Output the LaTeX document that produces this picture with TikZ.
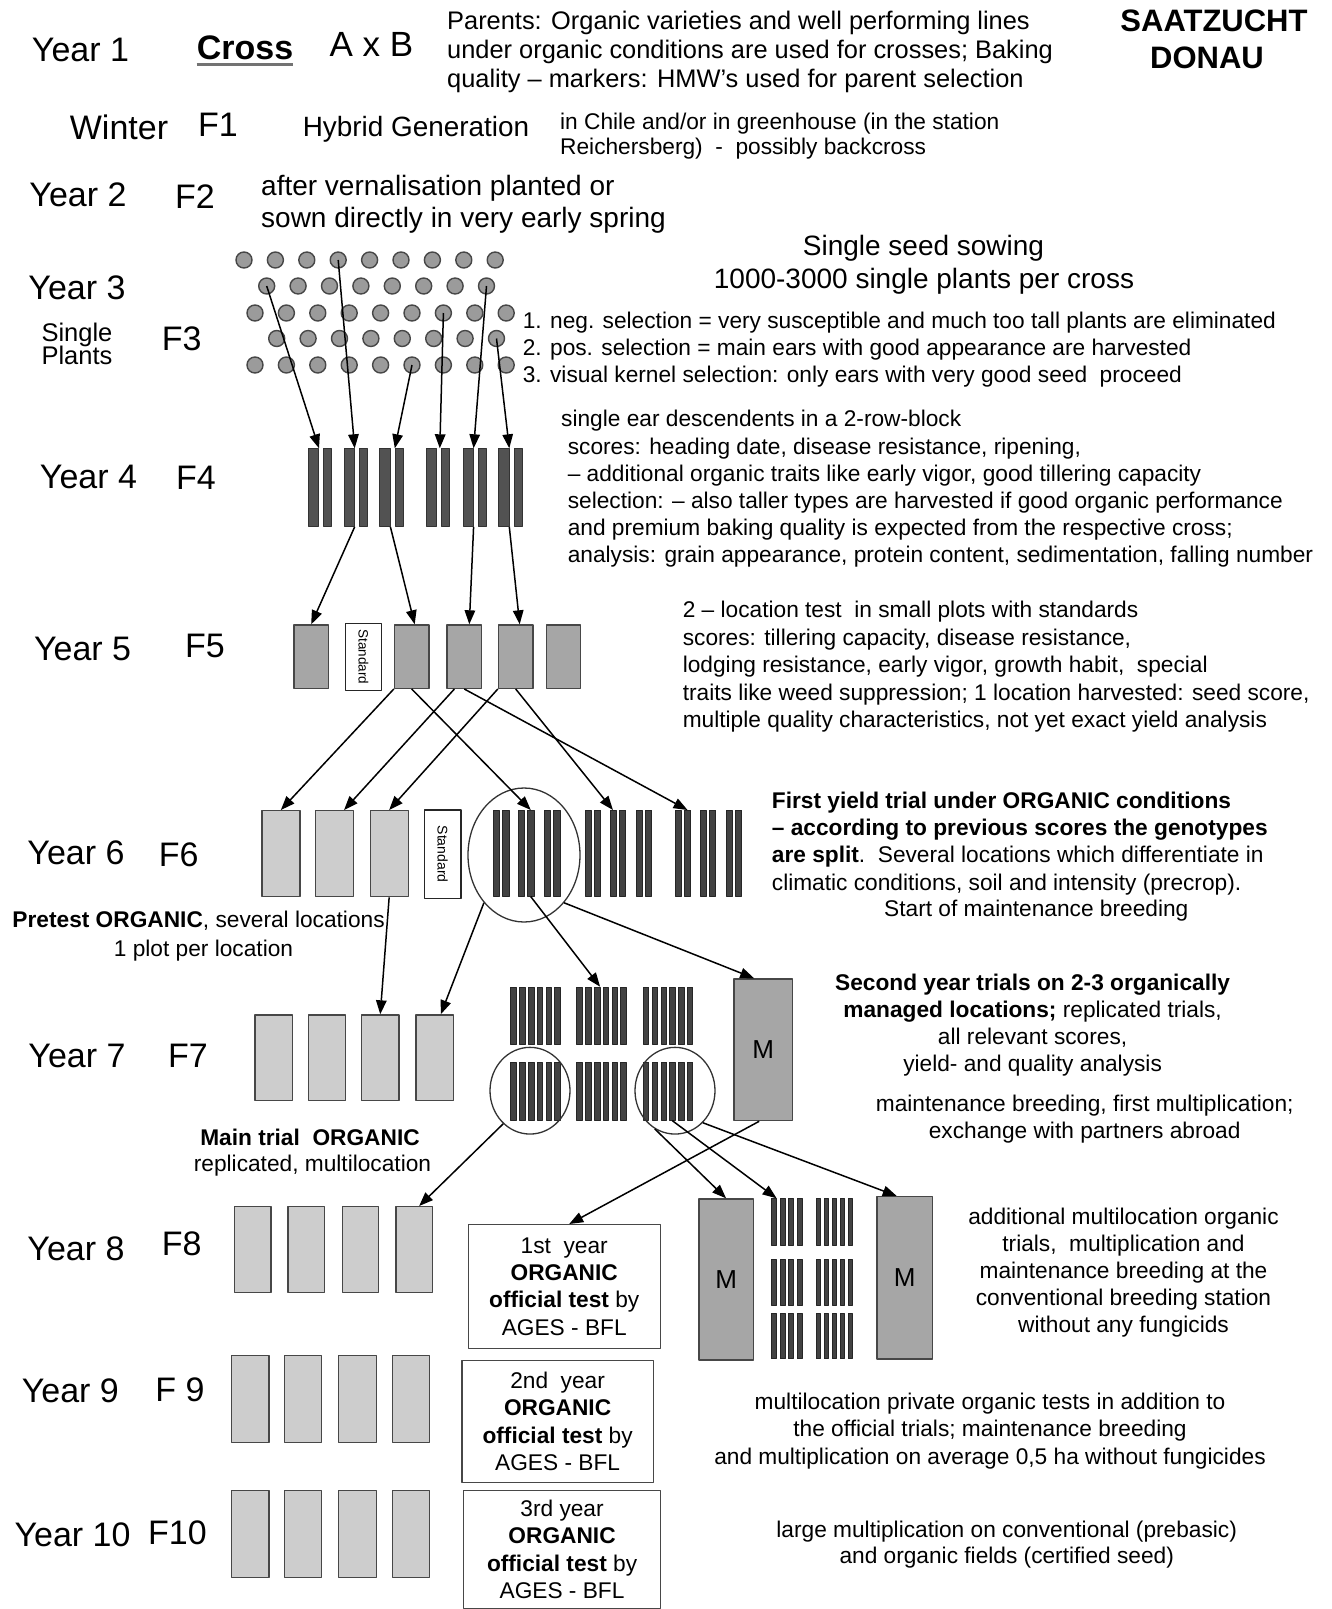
\documentclass[tikz,border=0pt]{standalone}
\usepackage{fontspec}
\setmainfont{Liberation Sans}
\usetikzlibrary{arrows.meta,shapes.geometric}

\definecolor{seedgray}{HTML}{9B9B9B}
\definecolor{midgray}{HTML}{A6A6A6}
\definecolor{lightgray}{HTML}{CDCDCD}
\definecolor{bargray}{HTML}{525252}
\definecolor{edgegray}{HTML}{474747}

\newcommand{\sz}[1]{\fontsize{#1}{#1}\selectfont}

\begin{document}
\begin{tikzpicture}[x=1pt,y=-1pt,>={Triangle[length=14pt,width=10.5pt]},line join=round,
  yearlab/.style={font=\sz{34},inner sep=0pt,text height=22.5pt,text depth=0pt},
  txt/.style={font=\sz{22.7},inner sep=0pt,text height=17pt,text depth=0pt},
  seed/.style={circle,draw=edgegray,fill=seedgray,line width=1.4pt,minimum size=16pt,inner sep=0pt},
  fbar/.style={draw=black!80,fill=bargray,line width=0.8pt,minimum height=77.7pt,inner sep=0pt,anchor=north west},
  tbar/.style={draw=black!85,fill=bargray!80!black,line width=0.6pt,inner sep=0pt,anchor=north west},
  plotbox/.style={draw=edgegray,line width=1.3pt,inner sep=0pt,anchor=north west},
  stdbox/.style={draw=black!85,fill=white,line width=1.3pt,inner sep=0pt,anchor=north west},
  testbox/.style={draw=edgegray,fill=white,line width=1.3pt,inner sep=0pt,anchor=north west,
    align=center,font=\fontsize{22.7}{27.3}\selectfont},
  mbox/.style={plotbox,fill=midgray,font=\sz{26}},
  sel/.style={ellipse,draw=black!80,line width=1.3pt,inner sep=0pt},
  arr/.style={->,line width=1.5pt}]
\useasboundingbox (0,0) rectangle (1331,1609);
\fill[white] (0,0) rectangle (1331,1609);

% year and generation labels
\node[yearlab] (y1) at (80.5,50) {Year 1};
\node[yearlab,font=\bfseries\sz{34}] (cross) at (245,48) {Cross};
\draw[line width=2.6pt,black!55] ([yshift=-5pt]cross.south west) -- ([yshift=-5pt]cross.south east);
\node[yearlab,font=\sz{35}] (axb) at (371.5,45) {A x B};
\node[yearlab] (win) at (119,128) {Winter};
\node[yearlab] (f1) at (218,125) {F1};
\node[yearlab] (y2) at (78,195) {Year 2};
\node[yearlab] (f2) at (195,197) {F2};
\node[yearlab] (y3) at (77,288.4) {Year 3};
\node[txt,font=\sz{25.5}] (sp1) at (77,332.5) {Single};
\node[txt,font=\sz{25.5}] (sp2) at (77,356) {Plants};
\node[yearlab] (f3) at (181.6,339.7) {F3};
\node[yearlab] (y4) at (88.5,477.3) {Year 4};
\node[yearlab] (f4) at (196,478) {F4};
\node[yearlab] (y5) at (82.6,649.3) {Year 5};
\node[yearlab] (f5) at (205,646) {F5};
\node[yearlab] (y6) at (76,852.8) {Year 6};
\node[yearlab] (f6) at (178.6,854.8) {F6};
\node[yearlab] (y7) at (77,1056.7) {Year 7};
\node[yearlab] (f7) at (188,1056.7) {F7};
\node[yearlab] (y8) at (76,1249) {Year 8};
\node[yearlab] (f8) at (181.6,1243.8) {F8};
\node[yearlab] (y9) at (70.3,1391.7) {Year 9};
\node[yearlab] (f9) at (180,1390) {F 9};
\node[yearlab] (y10) at (72.5,1535) {Year 10};
\node[yearlab] (f10) at (177.5,1533.3) {F10};

% texts
\foreach \t [count=\i] in {{Parents: Organic varieties and well performing lines},
  {under organic conditions are used for crosses; Baking},
  {quality -- markers: HMW's used for parent selection}}
  \node[txt,font=\sz{25.4},anchor=west] (par\i) at (447,{21+29*(\i-1)}) {\t};
\node[txt,font=\bfseries\sz{31}] (sz1) at (1214,23) {SAATZUCHT};
\node[txt,font=\bfseries\sz{31}] (sz2) at (1207,60) {DONAU};
\node[txt,font=\sz{27.9}] (hyb) at (416,128) {Hybrid Generation};
\node[txt,anchor=west] (chi1) at (560,121) {in Chile and/or in greenhouse (in the station};
\node[txt,anchor=west] (chi2) at (560,146) {Reichersberg)\ \ -\ \ possibly backcross};
\node[txt,font=\sz{28},anchor=west] (ver1) at (261,187) {after vernalisation planted or};
\node[txt,font=\sz{28},anchor=west] (ver2) at (261,219) {sown directly in very early spring};
\node[txt,font=\sz{28}] (sss1) at (923.5,246.7) {Single seed sowing};
\node[txt,font=\sz{28}] (sss2) at (924,280) {1000-3000 single plants per cross};
\foreach \t [count=\i] in {{1. neg. selection = very susceptible and much too tall plants are eliminated},
  {2. pos. selection = main ears with good appearance are harvested},
  {3. visual kernel selection: only ears with very good seed\ \ proceed}}
  \node[txt,anchor=west] (sel\i) at (522.6,{320+27*(\i-1)}) {\t};
\node[txt,anchor=west] (ear0) at (561,418.3) {single ear descendents in a 2-row-block};
\foreach \t [count=\i] in {{scores: heading date, disease resistance, ripening,},
  {-- additional organic traits like early vigor, good tillering capacity},
  {selection: -- also taller types are harvested if good organic performance},
  {and premium baking quality is expected from the respective cross;},
  {analysis: grain appearance, protein content, sedimentation, falling number}}
  \node[txt,anchor=west] (ear\i) at (567.6,{446+27*(\i-1)}) {\t};
\foreach \t [count=\i] in {{2 -- location test\ \ in small plots with standards},
  {scores: tillering capacity, disease resistance,},
  {lodging resistance, early vigor, growth habit,\ \ special},
  {traits like weed suppression; 1 location harvested: seed score,},
  {multiple quality characteristics, not yet exact yield analysis}}
  \node[txt,anchor=west] (loc\i) at (682.6,{609+27.5*(\i-1)}) {\t};
\foreach \t [count=\i] in {{\textbf{First yield trial under ORGANIC conditions}},
  {\textbf{-- according to previous scores the genotypes}},
  {\textbf{are split}.\ \ Several locations which differentiate in},
  {climatic conditions, soil and intensity (precrop).}}
  \node[txt,anchor=west] (fyt\i) at (771.7,{799.5+27.4*(\i-1)}) {\t};
\node[txt] (fyt5) at (1036.3,908.4) {Start of maintenance breeding};
\node[txt,anchor=west] (pre1) at (12.3,919) {\textbf{Pretest ORGANIC}, several locations};
\node[txt] (pre2) at (203.5,948) {1 plot per location};
\foreach \t [count=\i] in {{\textbf{Second year trials on 2-3 organically}},
  {\textbf{managed locations;} replicated trials,},
  {all relevant scores,},{yield- and quality analysis}}
  \node[txt] (sec\i) at (1032.6,{981.5+27.2*(\i-1)}) {\t};
\node[txt] (mnt1) at (1084.7,1102.5) {maintenance breeding, first multiplication;};
\node[txt] (mnt2) at (1084.7,1129.5) {exchange with partners abroad};
\node[txt] (mtr1) at (310,1136.5) {\textbf{Main trial\ \ ORGANIC}};
\node[txt] (mtr2) at (312.5,1163) {replicated, multilocation};
\foreach \t [count=\i] in {{additional multilocation organic},{trials,\ \ multiplication and},
  {maintenance breeding at the},{conventional breeding station},{without any fungicids}}
  \node[txt] (add\i) at (1123.5,{1216+27.1*(\i-1)}) {\t};
\foreach \t [count=\i] in {{multilocation private organic tests in addition to},
  {the official trials; maintenance breeding},
  {and multiplication on average 0,5 ha without fungicides}}
  \node[txt] (pri\i) at (990,{1401.3+27.1*(\i-1)}) {\t};
\node[txt] (lrg1) at (1006.7,1528.5) {large multiplication on conventional (prebasic)};
\node[txt] (lrg2) at (1006.7,1555) {and organic fields (certified seed)};

% F3 single plants
\foreach \yy/\xs/\n [count=\r] in {260/244/9,286/266.7/8,313/255/9,338.5/276.7/8,365/255/9}
  \foreach \c in {1,...,\n}
    \node[seed] (d\r-\c) at ({\xs+31.4*(\c-1)},\yy) {};

% F4 ear rows
\foreach \px [count=\i] in {307.9,343.6,379.3,425.7,462.5,498.2}{
  \node[fbar,minimum width=10.3pt] (f4a-\i) at (\px,448.3) {};
  \node[fbar,minimum width=7.8pt] (f4b-\i) at ({\px+15.5},448.3) {};
}

% F5 plots
\foreach \x/\n in {293.3/1,393.8/3,446.4/4,497.8/5,545.5/6}
  \node[plotbox,fill=midgray,minimum width=34.5pt,minimum height=63.4pt] (f5-\n) at (\x,624.3) {};
\node[stdbox,minimum width=35.8pt,minimum height=67.3pt] (std5) at (345,622.7) {};
\node[rotate=-90,font=\sz{13.5},inner sep=0pt] (std5t) at (std5.center) {Standard};

% F6 plots
\foreach \x [count=\n] in {261.2,314.8,369.5}
  \node[plotbox,fill=lightgray,minimum width=38pt,minimum height=86pt] (f6-\n) at (\x,810) {};
\node[stdbox,minimum width=36.3pt,minimum height=88.4pt] (std6) at (423.9,809.3) {};
\node[rotate=-90,font=\sz{14},inner sep=0pt] (std6t) at (std6.center) {Standard};
\foreach \gx [count=\g] in {492.8,584.6,674.6}
  \foreach \ox [count=\k] in {0,9.5,24.9,34.5,50.9,60.5}
    \node[tbar,minimum width=6.3pt,minimum height=86pt] (g6\g-\k) at ({\gx+\ox},810) {};
\node[sel,minimum width=112pt,minimum height=134pt] (sel6) at (524,855) {};

% F7 plots
\foreach \x [count=\n] in {254.2,307.5,360.8,415.3}
  \node[plotbox,fill=lightgray,minimum width=37.6pt,minimum height=85.7pt] (f7-\n) at (\x,1014.3) {};
\foreach \gx [count=\g] in {510,576,642.7}
  \foreach \ox [count=\k] in {0,9,18,26.5,35.5,44}{
    \node[tbar,minimum width=5.5pt,minimum height=57.3pt] (u7\g-\k) at ({\gx+\ox},986.7) {};
    \node[tbar,minimum width=5.5pt,minimum height=58.3pt] (l7\g-\k) at ({\gx+\ox},1061.7) {};
  }
\node[sel,minimum width=80pt,minimum height=86.7pt] (sel7a) at (530,1090.7) {};
\node[sel,minimum width=80pt,minimum height=86.7pt] (sel7b) at (675,1090.7) {};
\node[mbox,minimum width=58.4pt,minimum height=141.7pt] (m7) at (733.3,978.3) {M};

% F8 plots
\foreach \x [count=\n] in {233.9,287.3,341.5,395.3}
  \node[plotbox,fill=lightgray,minimum width=36.4pt,minimum height=85.7pt] (f8-\n) at (\x,1206) {};
\node[testbox,minimum width=191.9pt,minimum height=123.7pt] (test1) at (467.6,1224)
  {1st\ \ year\\\textbf{ORGANIC}\\\textbf{official test} by\\AGES - BFL};
\node[mbox,minimum width=54.3pt,minimum height=161pt] (m8a) at (698.3,1198.3) {M};
\node[mbox,minimum width=55.8pt,minimum height=162.3pt] (m8b) at (876.2,1196) {M};
\foreach \yy/\hh [count=\r] in {1198.3/46.7,1259.3/45.7,1313.3/45}{
  \foreach \ox [count=\k] in {0,8.5,17,25.5}
    \node[tbar,minimum width=5pt,minimum height=\hh pt] (b8-\r-\k) at ({771+\ox},\yy) {};
  \foreach \ox [count=\k] in {0,8,16,24,32}
    \node[tbar,minimum width=4.5pt,minimum height=\hh pt] (c8-\r-\k) at ({815.6+\ox},\yy) {};
}

% F9 and F10 plots
\foreach \x [count=\n] in {230.8,283.5,338,391.5}{
  \node[plotbox,fill=lightgray,minimum width=37.5pt,minimum height=86.7pt] (f9-\n) at (\x,1355) {};
  \node[plotbox,fill=lightgray,minimum width=37.5pt,minimum height=86.7pt] (f10-\n) at (\x,1490) {};
}
\node[testbox,minimum width=191.5pt,minimum height=121.7pt] (test2) at (461.2,1360)
  {2nd\ \ year\\\textbf{ORGANIC}\\\textbf{official test} by\\AGES - BFL};
\node[testbox,minimum width=196.8pt,minimum height=117.5pt] (test3) at (463,1490)
  {3rd year\\\textbf{ORGANIC}\\\textbf{official test} by\\AGES - BFL};

% selection arrows
\draw[arr] (d2-1.center) -- (f4a-1.north east);
\draw[arr] (d1-4.center) -- (f4a-2.north east);
\draw[arr] (d5-6.center) -- (f4b-3.north west);
\draw[arr] (d3-7.center) -- ([xshift=3pt]f4a-4.north east);
\draw[arr] (d2-8.center) -- (f4a-5.north east);
\draw[arr] (d4-8.center) -- (f4a-6.north east);

\draw[arr] (f4a-2.south east) -- (f5-1.north);
\draw[arr] (f4a-3.south east) -- ([xshift=3pt]f5-3.north);
\draw[arr] (f4a-5.south east) -- ([xshift=5pt]f5-4.north);
\draw[arr] (f4a-6.south east) -- ([xshift=4pt]f5-5.north);

\draw[arr] (f5-3.south west) -- (f6-1.north);
\draw[arr] ([xshift=8pt]f5-4.south west) -- ([xshift=9.6pt]f6-2.north);
\draw[arr] (f5-5.south west) -- (f6-3.north);
\draw[arr] (f5-3.south) -- (g61-4.north);
\draw[arr] (f5-5.south) -- (g62-3.north);
\draw[arr] (f5-4.south) -- (g63-2.north);

\draw[arr] (f6-3.south) -- (f7-3.north);
\draw[arr] (sel6.-130) -- ([xshift=6pt]f7-4.north);
\draw[arr] (g61-4.south) -- (u72-3.north east);
\draw[arr] (sel6.-50) -- ([xshift=-9pt]m7.north);

\draw[arr] (sel7a.-129) -- ([xshift=5pt]f8-4.north);
\draw[arr] ([xshift=-4pt]m7.south) -- ([xshift=5pt]test1.north);
\draw[arr] (sel7b.-118) -- (m8a.north);
\draw[arr] (l73-4.south) -- (b8-1-1.north east);
\draw[arr] (sel7b.-49) -- ([xshift=-8pt]m8b.north);
\end{tikzpicture}
\end{document}
